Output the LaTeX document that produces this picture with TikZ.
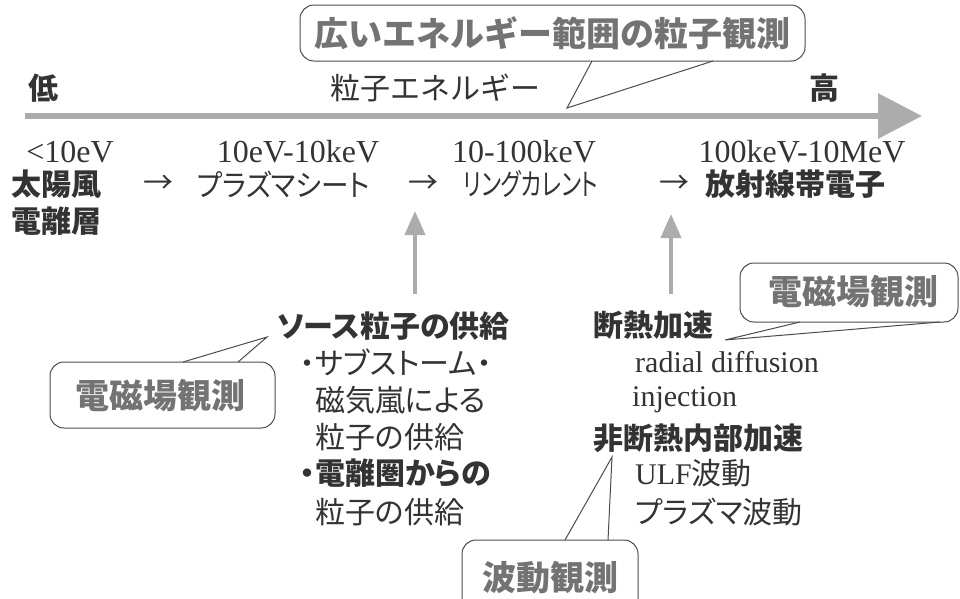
\documentclass[tikz,border=0pt]{standalone}
\usepackage{fontspec}
\setmainfont{Liberation Serif}
\newfontfamily\cjk{Noto Sans CJK JP}
\newfontfamily\cjkp[RawFeature=+palt]{Noto Sans CJK JP}
\usetikzlibrary{arrows.meta}
\begin{document}
\begin{tikzpicture}[x=1pt,y=-1pt,
  txt/.style={inner sep=0pt, text=black!80},
  jp/.style={txt, font=\cjk\fontsize{30}{36}\selectfont},
  jpp/.style={txt, font=\cjkp\fontsize{30}{36}\selectfont},
  jpb/.style={txt, font=\cjk\bfseries\fontsize{30}{36}\selectfont},
  jpbp/.style={txt, font=\cjkp\bfseries\fontsize{30}{36}\selectfont},
  num/.style={txt, font=\fontsize{30}{36}\selectfont},
  rng/.style={txt, font=\fontsize{32}{36}\selectfont},
  cotext/.style={inner sep=0pt, text=black!55, font=\cjk\bfseries\fontsize{34}{40}\selectfont},
  balloon/.style={draw=black!70, line width=1pt, fill=white, rounded corners=14pt},
  tailfill/.style={fill=white},
  tailline/.style={draw=black!70, line width=1pt},
  bigarrow/.style={draw=gray!65, line width=6.5pt, -{Triangle[width=44pt,length=44pt]}},
  uparrow/.style={draw=gray!65, line width=4pt, -{Triangle[width=20pt,length=24pt]}},
]
\useasboundingbox (0,0) rectangle (960,598);

% main energy axis
\coordinate (axL) at (25,116);
\coordinate (axR) at (922,116);
\draw[bigarrow] (axL) -- (axR);

\node[jpb] (low) at (43,88) {低};
\node[jp] (pe) at (435,88) {粒子エネルギー};
\node[jpb] (high) at (824,88) {高};

% top balloon
\draw[balloon] (300,5) rectangle (805,61);
\coordinate (t1a) at (592,61);
\coordinate (t1tip) at (567,108);
\coordinate (t1b) at (713,61);
\fill[tailfill] ([yshift=-1.5pt]t1a) -- (t1tip) -- ([yshift=-1.5pt]t1b) -- cycle;
\draw[tailline] (t1a) -- (t1tip) -- (t1b);
\node[cotext] (c1) at (552,33) {広いエネルギー範囲の粒子観測};

% energy ranges
\node[rng] (r1) at (70,152) {<10eV};
\node[rng] (r2) at (298,152) {10eV-10keV};
\node[rng] (r3) at (524,152) {10-100keV};
\node[rng] (r4) at (802,152) {100keV-10MeV};

\node[jpb] (p1) at (56,184) {太陽風};
\node[jpb] (p1b) at (56,221) {電離層};
\node[jp] (a1) at (158,184) {→};
\node[jpp, anchor=west] (p2) at (197,184) {\scalebox{0.92}[1]{プラズマシート}};
\node[jp] (a2) at (423,184) {→};
\node[jpp, anchor=west] (p3) at (463,184) {\scalebox{0.74}[1]{リングカレント}};
\node[jp] (a3) at (674,184) {→};
\node[jpb] (p4) at (795,184) {放射線帯電子};

% vertical arrows
\coordinate (u1s) at (415,294);
\coordinate (u1e) at (415,211);
\draw[uparrow] (u1s) -- (u1e);
\coordinate (u2s) at (671,294);
\coordinate (u2e) at (671,214);
\draw[uparrow] (u2s) -- (u2e);

% source supply list
\node[jpbp, anchor=west] (s1) at (277,326) {ソース粒子の供給};
\node[jpp, anchor=west] (s2) at (300,362) {・サブストーム・};
\node[jpp, anchor=west] (s3) at (315,400) {磁気嵐による};
\node[jpp, anchor=west] (s4) at (315,437) {粒子の供給};
\node[jpbp, anchor=west] (s5) at (300,473) {・電離圏からの};
\node[jpp, anchor=west] (s6) at (315,512) {粒子の供給};

% acceleration list
\node[jpb, anchor=west] (k1) at (593,325) {断熱加速};
\node[num, anchor=west] (k2) at (635,362) {radial diffusion};
\node[num, anchor=west] (k3) at (632,400) {injection};
\node[jpb, anchor=west] (k4) at (593,438) {非断熱内部加速};
\node[jp, anchor=west] (k5) at (635,473) {{\rmfamily ULF}波動};
\node[jpp, anchor=west] (k6) at (635,512) {プラズマ波動};

% left balloon
\draw[balloon] (50,362) rectangle (275,428);
\coordinate (t2a) at (183,362);
\coordinate (t2tip) at (267,337);
\coordinate (t2b) at (238,362);
\fill[tailfill] ([yshift=1.5pt]t2a) -- (t2tip) -- ([yshift=1.5pt]t2b) -- cycle;
\draw[tailline] (t2a) -- (t2tip) -- (t2b);
\node[cotext] (c2) at (160,396) {電磁場観測};

% right balloon
\draw[balloon] (740,263) rectangle (958,322);
\coordinate (t3a) at (800,322);
\coordinate (t3tip) at (725,340);
\coordinate (t3b) at (940,322);
\fill[tailfill] ([yshift=-1.5pt]t3a) -- (t3tip) -- ([yshift=-1.5pt]t3b) -- cycle;
\draw[tailline] (t3a) -- (t3tip) -- (t3b);
\node[cotext] (c3) at (853,292) {電磁場観測};

% bottom balloon
\draw[balloon] (462,540) rectangle (638,625);
\coordinate (t4a) at (565,540);
\coordinate (t4tip) at (612,457);
\coordinate (t4b) at (608,540);
\fill[tailfill] ([yshift=1.5pt]t4a) -- (t4tip) -- ([yshift=1.5pt]t4b) -- cycle;
\draw[tailline] (t4a) -- (t4tip) -- (t4b);
\node[cotext] (c4) at (550,578) {波動観測};
\end{tikzpicture}
\end{document}
